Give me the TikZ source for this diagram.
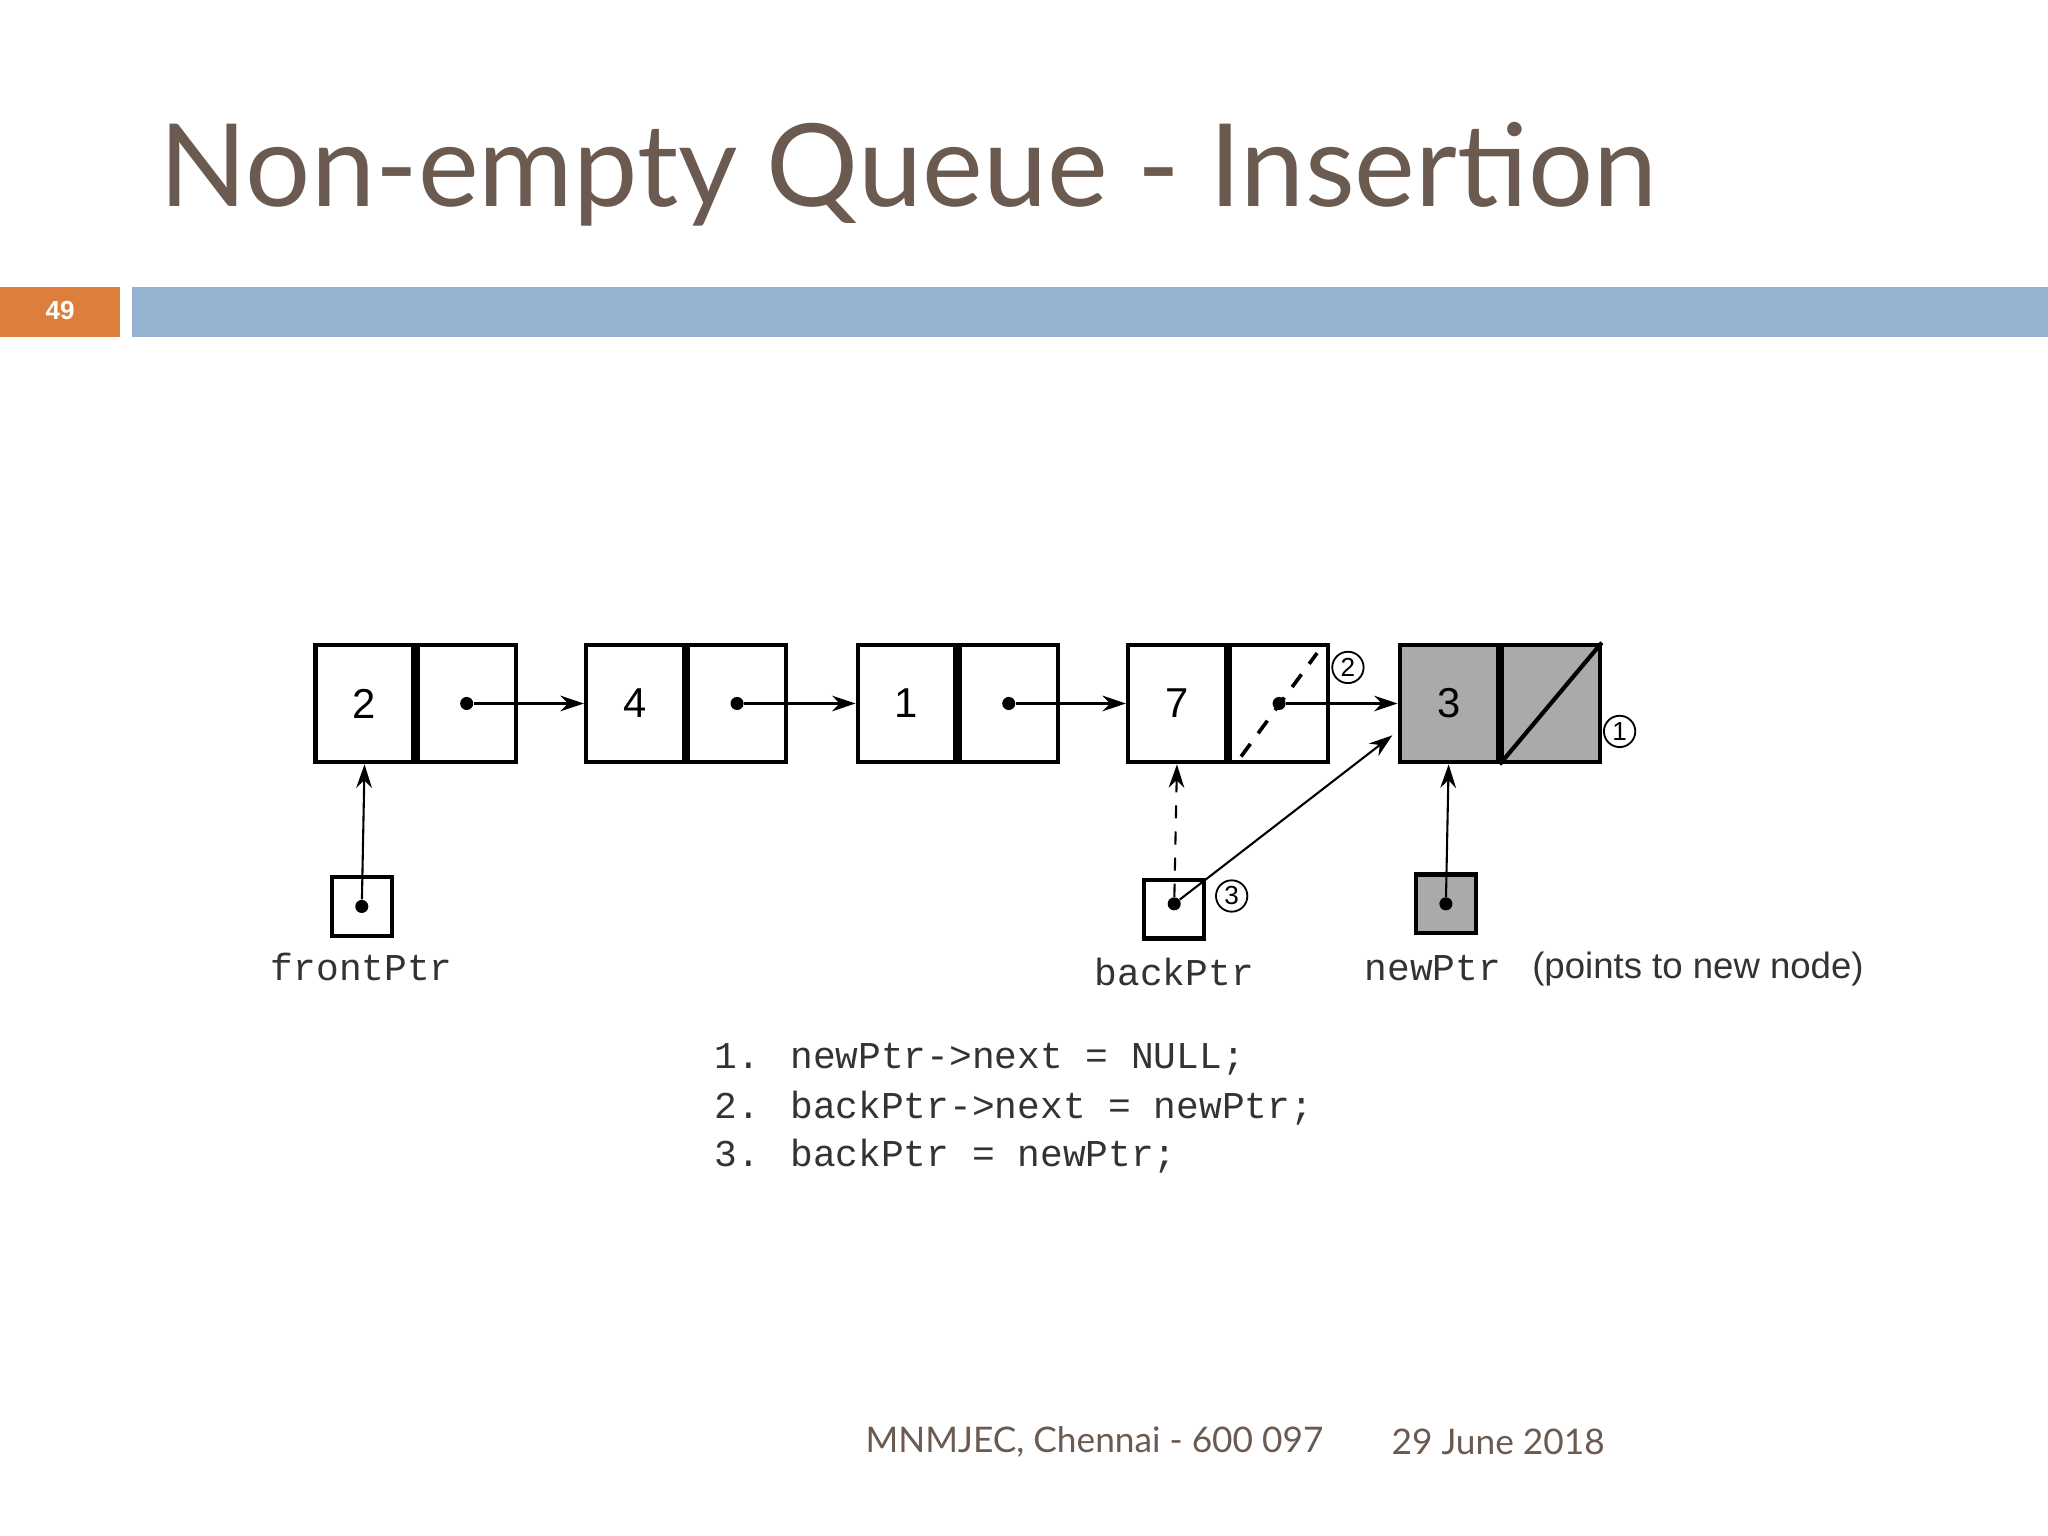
\documentclass[tikz,border=0pt]{standalone}
\usepackage{fontspec}
\setmainfont{Liberation Sans}
\newfontfamily\titlefont{Lato}
\newfontfamily\monof{Liberation Mono}
\usetikzlibrary{arrows.meta,calc}
\definecolor{titlec}{HTML}{6B5A50}
\definecolor{barblue}{HTML}{93B3D0}
\definecolor{barorange}{HTML}{DE7E3D}
\definecolor{cellgray}{HTML}{AAAAAA}
\tikzset{
  cell/.style={draw,line width=1.6pt,minimum width=37.5pt,minimum height=45pt,inner sep=0pt,font=\fontsize{16}{16}\selectfont},
  ptrbox/.style={draw,line width=1.6pt,minimum width=23pt,minimum height=22.5pt,inner sep=0pt},
  dotc/.style={circle,fill,inner sep=0pt,minimum size=5pt},
  arr/.style={line width=0.8pt,-{Stealth[length=9pt,width=6pt]}},
  circ/.style={draw,circle,line width=0.7pt,minimum size=12pt,inner sep=0pt,font=\fontsize{10}{10}\selectfont},
  mono/.style={font=\monof\fontsize{14.5}{14.5}\selectfont,text=black!80},
}
\begin{document}
\begin{tikzpicture}[x=0.5pt,y=-0.5pt]
\useasboundingbox[fill=white] (0,0) rectangle (1568,1176);
\node[anchor=base west,inner sep=0,text=titlec,font=\titlefont\fontsize{44}{44}\selectfont] (title) at (122,158) {Non-empty Queue - Insertion};
\fill[barorange] (0,220) rectangle (92,258);
\node[text=white,font=\bfseries\fontsize{10}{10}\selectfont] (num) at (46,238) {49};
\fill[barblue] (101,220) rectangle (1568,258);
% list nodes
\foreach \n/\x/\v in {a/240/2,b/447/4,c/655/1,d/862/7}{
  \node[cell,anchor=north west] (\n L) at (\x,492) {\v};
  \node[cell,anchor=west] (\n R) at (\n L.east) {};
  \node[dotc] (\n D) at (\n R.center) {};
}
\node[cell,anchor=north west,fill=cellgray] (eL) at (1070,492) {3};
\node[cell,anchor=west,fill=cellgray] (eR) at (eL.east) {};
\draw[line width=1.6pt] (eR.south west) -- (eR.north east);
\draw[arr] (aD) -- (bL.west);
\draw[arr] (bD) -- (cL.west);
\draw[arr] (cD) -- (dL.west);
\draw[arr] (dD) -- (eL.west);
\draw[line width=1.4pt,dash pattern=on 6pt off 5pt] ($(dR.south west)+(10,-6)$) -- ($(dR.north east)+(-10,8)$);
\node[circ] (c2) at (1032,511) {2};
\node[circ] (c1) at (1240,560) {1};
% pointers
\node[ptrbox] (fp) at (277,694) {};
\node[dotc] (fpD) at (fp.center) {};
\draw[arr] (fpD) -- (aL.south);
\node[mono] (fpl) at (277,740) {frontPtr};
\node[ptrbox] (bp) at (899,696) {};
\node[dotc] (bpD) at (899,692) {};
\draw[arr,dash pattern=on 5pt off 5pt] (bpD) -- (dL.south);
\coordinate (bt) at (1066,563);
\draw[arr] (bpD) -- (bt);
\node[circ] (c3) at (943,686) {3};
\node[mono] (bpl) at (899,744) {backPtr};
\node[ptrbox,fill=cellgray] (np) at (1107,692) {};
\node[dotc] (npD) at (np.center) {};
\draw[arr] (npD) -- (eL.south);
\node[mono] (npl) at (1097,741) {newPtr};
\node[font=\fontsize{14}{14}\selectfont,text=black!80] (npn) at (1300,742) {(points to new node)};
% code
\node[mono,anchor=base west] (l1) at (540,818) {1. newPtr->next = NULL;};
\node[mono,anchor=base west] (l2) at (540,856) {2. backPtr->next = newPtr;};
\node[mono,anchor=base west] (l3) at (540,893) {3. backPtr = newPtr;};
% footer
\node[text=titlec,font=\titlefont\fontsize{13.5}{13.5}\selectfont] (f1) at (838,1104) {MNMJEC, Chennai - 600 097};
\node[text=titlec,font=\titlefont\fontsize{13.5}{13.5}\selectfont] (f2) at (1147,1104) {29 June 2018};
\end{tikzpicture}
\end{document}
